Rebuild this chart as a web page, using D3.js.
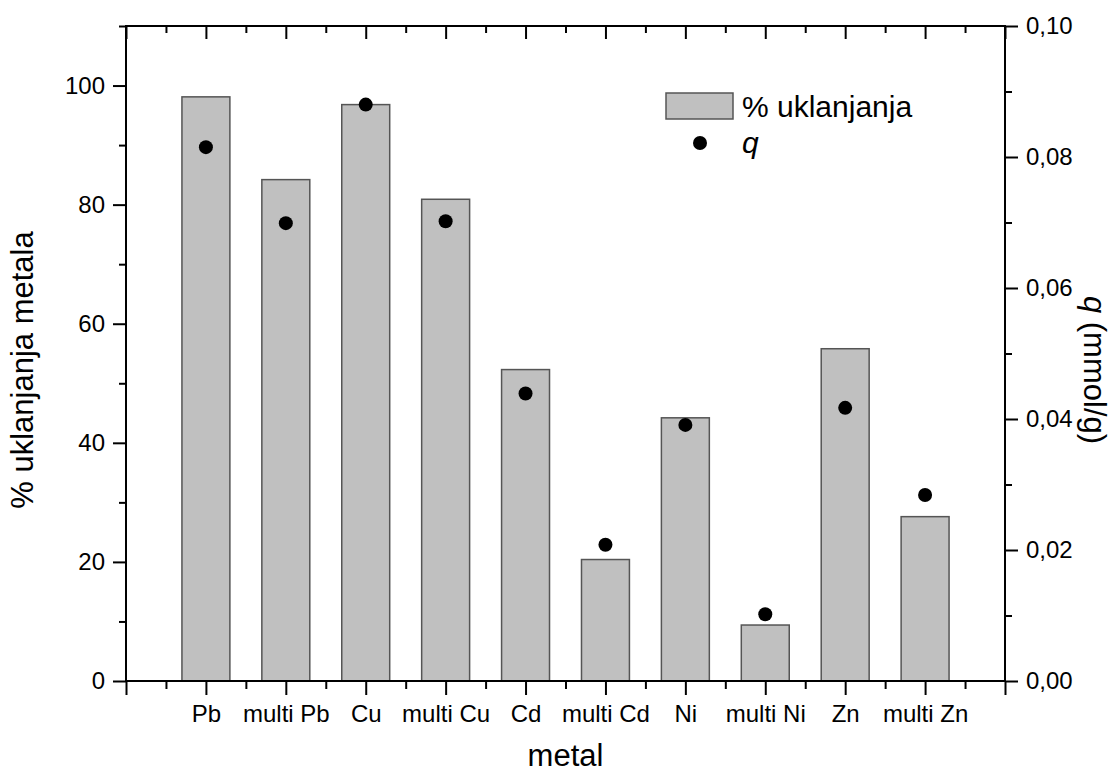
<!DOCTYPE html>
<html>
<head>
<meta charset="utf-8">
<script src="https://cdn.jsdelivr.net/npm/d3@7"></script>
<style>
  html, body { margin: 0; padding: 0; background: #fff; }
  svg { display: block; font-family: "Liberation Sans", Arial, sans-serif; }
</style>
</head>
<body>
<svg id="chart" width="1112" height="776"></svg>
<script>
// ---- data ----
const categories = ["Pb", "multi Pb", "Cu", "multi Cu", "Cd", "multi Cd", "Ni", "multi Ni", "Zn", "multi Zn"];
const removalPct = [98.1, 84.2, 96.8, 80.9, 52.3, 20.4, 44.2, 9.4, 55.8, 27.6];
const qValues = [0.0815, 0.0699, 0.0880, 0.0702, 0.0439, 0.0208, 0.0391, 0.0102, 0.0417, 0.0284];
const leftTicks = [0, 20, 40, 60, 80, 100];
const rightTicks = [0, 0.02, 0.04, 0.06, 0.08, 0.10];

const svg = d3.select("#chart");
const L = 126, R = 1005, T = 26, B = 681;

const x = d3.scaleLinear().domain([0, categories.length + 1]).range([L, R]);
const yL = d3.scaleLinear().domain([0, 110]).range([B, T]);
const yR = d3.scaleLinear().domain([0, 0.10]).range([B, T]);

const barW = x(0.6) - x(0);

// bars
svg.append("g").selectAll("rect").data(removalPct).join("rect")
  .attr("x", (d, i) => x(i + 1) - barW / 2)
  .attr("y", d => yL(d))
  .attr("width", barW)
  .attr("height", d => yL(0) - yL(d))
  .attr("fill", "#c0c0c0")
  .attr("stroke", "#555")
  .attr("stroke-width", 1.5);

// points
svg.append("g").selectAll("circle").data(qValues).join("circle")
  .attr("cx", (d, i) => x(i + 1))
  .attr("cy", d => yR(d))
  .attr("r", 7)
  .attr("fill", "#000");

// axes
const majorX = d3.range(0, categories.length + 2);
const minorX = d3.range(0.5, categories.length + 1, 1);
const tickFont = "24px";

// bottom axis
const gB = svg.append("g").attr("transform", `translate(0,${B})`)
  .call(d3.axisBottom(x).tickValues(majorX).tickSize(14)
    .tickFormat(d => (d >= 1 && d <= categories.length) ? categories[d - 1] : ""));
const gBm = svg.append("g").attr("transform", `translate(0,${B})`)
  .call(d3.axisBottom(x).tickValues(minorX).tickSize(8).tickFormat(""));

// top axis (ticks inward)
const gT = svg.append("g").attr("transform", `translate(0,${T})`)
  .call(d3.axisBottom(x).tickValues(majorX).tickSize(13).tickFormat(""));
const gTm = svg.append("g").attr("transform", `translate(0,${T})`)
  .call(d3.axisBottom(x).tickValues(minorX).tickSize(7).tickFormat(""));

// left axis
const gL = svg.append("g").attr("transform", `translate(${L},0)`)
  .call(d3.axisLeft(yL).tickValues(leftTicks).tickSize(13).tickPadding(8).tickFormat(d3.format("d")));
const gLm = svg.append("g").attr("transform", `translate(${L},0)`)
  .call(d3.axisLeft(yL).tickValues([10, 30, 50, 70, 90, 110]).tickSize(7).tickFormat(""));

// right axis
const gR = svg.append("g").attr("transform", `translate(${R},0)`)
  .call(d3.axisRight(yR).tickValues(rightTicks).tickSize(13).tickPadding(8)
    .tickFormat(d => d3.format(".2f")(d).replace(".", ",")));
const gRm = svg.append("g").attr("transform", `translate(${R},0)`)
  .call(d3.axisRight(yR).tickValues([0.01, 0.03, 0.05, 0.07, 0.09]).tickSize(7).tickFormat(""));

[gB, gBm, gT, gTm, gL, gLm, gR, gRm].forEach(g => {
  g.select(".domain").remove();
  g.selectAll(".tick line").attr("stroke", "#000").attr("stroke-width", 2);
  g.selectAll(".tick text").attr("fill", "#000").style("font-size", tickFont)
    .style("font-family", '"Liberation Sans", Arial, sans-serif');
});
gB.selectAll(".tick text").attr("dy", null).attr("y", 0).attr("transform", "translate(0,41)");

// frame
svg.append("rect").attr("x", L).attr("y", T).attr("width", R - L).attr("height", B - T)
  .attr("fill", "none").attr("stroke", "#000").attr("stroke-width", 2);

// axis titles
svg.append("text").attr("x", (L + R) / 2).attr("y", 766).attr("text-anchor", "middle")
  .style("font-size", "31px").text("metal");
svg.append("text").attr("transform", `translate(33,370) rotate(-90)`).attr("text-anchor", "middle")
  .style("font-size", "31px").text("% uklanjanja metala");
const rt = svg.append("text").attr("transform", `translate(1084,370) rotate(90)`).attr("text-anchor", "middle")
  .style("font-size", "31px");
rt.append("tspan").style("font-style", "italic").text("q");
rt.append("tspan").text(" (mmol/g)");

// legend
const lg = svg.append("g");
lg.append("rect").attr("x", 666).attr("y", 93).attr("width", 67).attr("height", 26)
  .attr("fill", "#c0c0c0").attr("stroke", "#555").attr("stroke-width", 1.5);
lg.append("text").attr("x", 742).attr("y", 117).style("font-size", "30px").text("% uklanjanja");
lg.append("circle").attr("cx", 700).attr("cy", 143).attr("r", 7).attr("fill", "#000");
lg.append("text").attr("x", 742).attr("y", 153).style("font-size", "30px").style("font-style", "italic").text("q");
</script>
</body>
</html>
